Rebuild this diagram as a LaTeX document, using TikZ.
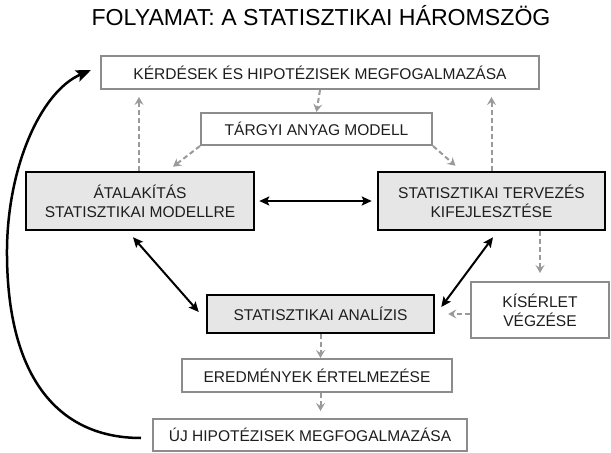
\documentclass[tikz,border=0pt]{standalone}
\usepackage{fontspec}
\setmainfont{Liberation Sans}
\usetikzlibrary{arrows.meta,calc}
\definecolor{boxgray}{HTML}{8C8C8C}
\definecolor{arrowgray}{HTML}{9A9A9A}
\definecolor{panelfill}{HTML}{E6E6E6}
\definecolor{ink}{HTML}{1E1E1E}
\begin{document}
\begin{tikzpicture}[x=1bp,y=-1bp,
  every node/.style={font=\fontsize{15.6}{19}\selectfont, text=ink, align=center, inner sep=0pt},
  lightbox/.style={draw=boxgray, line width=2bp, fill=white},
  keybox/.style={draw=black, line width=2.5bp, fill=panelfill},
  flow/.style={draw=arrowgray, line width=2bp, dash pattern=on 5bp off 3bp,
    -{Stealth[length=8bp,width=9bp,inset=3bp]}},
  link/.style={draw=black, line width=2bp,
    {Stealth[length=10bp,width=9bp,inset=2bp]}-{Stealth[length=10bp,width=9bp,inset=2bp]}},
  loop/.style={draw=black, line width=2.5bp, -{Stealth[length=15bp,width=12bp,inset=3bp]}},
]
\useasboundingbox (0,0) rectangle (611,453);

% title
\node[anchor=base, font=\fontsize{23.2}{27}\selectfont, text=black] (title) at (321,26)
  {FOLYAMAT: A STATISZTIKAI HÁROMSZÖG};

% boxes
\node[lightbox, minimum width=438bp, minimum height=33bp] (kerd) at (320,72.5)
  {KÉRDÉSEK ÉS HIPOTÉZISEK MEGFOGALMAZÁSA};
\node[lightbox, minimum width=231bp, minimum height=32bp] (targy) at (316.5,129)
  {TÁRGYI ANYAG MODELL};
\node[keybox, minimum width=228bp, minimum height=58bp] (atal) at (140,201)
  {ÁTALAKÍTÁS\\STATISZTIKAI MODELLRE};
\node[keybox, minimum width=227bp, minimum height=58bp] (terv) at (491.5,201)
  {STATISZTIKAI TERVEZÉS\\KIFEJLESZTÉSE};
\node[keybox, minimum width=227bp, minimum height=38bp] (anal) at (320.5,314)
  {STATISZTIKAI ANALÍZIS};
\node[lightbox, minimum width=138bp, minimum height=56bp] (kis) at (540,310)
  {KÍSÉRLET\\VÉGZÉSE};
\node[lightbox, minimum width=270bp, minimum height=33bp] (ered) at (317,375.5)
  {EREDMÉNYEK ÉRTELMEZÉSE};
\node[lightbox, minimum width=314bp, minimum height=32bp] (uj) at (310,435)
  {ÚJ HIPOTÉZISEK MEGFOGALMAZÁSA};

% dashed process flow
\draw[flow] (kerd.south) -- (targy.north);
\draw[flow] (targy.south west) -- ([xshift=33bp,yshift=4bp]atal.north);
\draw[flow] (targy.south east) -- ([xshift=-36bp,yshift=5bp]terv.north);
\draw[flow, shorten >=7bp] ([xshift=-1bp]atal.north) -- ([xshift=-1bp]atal.north |- kerd.south);
\draw[flow, shorten >=7bp] (terv.north) -- (terv.north |- kerd.south);
\draw[flow, shorten >=8bp] (terv.south -| kis.north) -- (kis.north);
\draw[flow, shorten >=13bp] (kis.west |- anal.east) -- (anal.east);
\draw[flow] (anal.south) -- (anal.south |- ered.north);
\draw[flow, shorten >=7bp] (anal.south |- ered.south) -- (anal.south |- uj.north);

% two-way links of the triangle
\draw[link, shorten <=4bp, shorten >=5bp] (atal.east) -- (terv.west);
\draw[link] ([xshift=-7bp,yshift=-6bp]atal.south) -- ([xshift=-7bp,yshift=2bp]anal.west);
\draw[link] ([xshift=1.5bp,yshift=-6bp]terv.south) -- ([xshift=6bp,yshift=7bp]anal.east);

% feedback loop back to the questions
\draw[loop] ([xshift=-11bp,yshift=-3bp]uj.west)
  .. controls (60,438) and (8,380) .. (7,256)
  .. controls (6,170) and (40,92) .. ([xshift=-9bp,yshift=2.5bp]kerd.west);
\end{tikzpicture}
\end{document}
